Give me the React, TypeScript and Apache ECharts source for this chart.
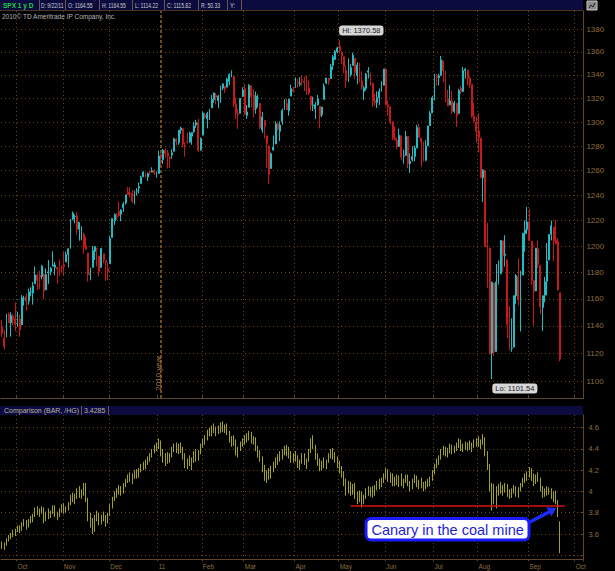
import React, { useEffect, useRef } from "react";
import * as echarts from "echarts";

// SPX daily bars: [day, open, high, low, close]
const spxSep2010 = [
  [22, 1139.5, 1144.4, 1131.6, 1134.3], [23, 1131.1, 1136.8, 1122.8, 1124.8], [24, 1131.7, 1148.9, 1131.7, 1148.7],
  [27, 1148.6, 1149.9, 1142.0, 1142.2], [28, 1142.3, 1150.0, 1132.1, 1147.7], [29, 1146.8, 1148.6, 1140.3, 1144.7],
  [30, 1145.0, 1157.2, 1136.1, 1141.2],
];
const spxOct2010 = [
  [1, 1143.5, 1150.3, 1139.4, 1146.2], [4, 1145.0, 1148.2, 1131.9, 1137.0], [5, 1140.7, 1162.8, 1140.7, 1160.8],
  [6, 1159.8, 1162.3, 1154.9, 1160.0], [7, 1161.6, 1163.9, 1151.4, 1158.1], [8, 1158.4, 1167.7, 1155.6, 1165.2],
  [11, 1165.3, 1168.7, 1162.0, 1165.3], [12, 1164.3, 1172.6, 1155.7, 1169.8], [13, 1171.3, 1184.4, 1171.3, 1178.1],
  [14, 1177.8, 1178.9, 1166.7, 1173.8], [15, 1177.5, 1181.2, 1167.1, 1176.2], [18, 1176.8, 1185.5, 1174.6, 1184.7],
  [19, 1178.6, 1178.6, 1159.7, 1165.9], [20, 1166.7, 1182.9, 1166.7, 1178.2], [21, 1179.6, 1189.4, 1171.2, 1180.3],
  [22, 1180.5, 1183.9, 1178.0, 1183.1], [25, 1184.7, 1196.1, 1184.7, 1185.6], [26, 1183.9, 1187.9, 1177.7, 1185.6],
  [27, 1183.8, 1183.8, 1171.7, 1182.5], [28, 1184.5, 1189.5, 1177.1, 1183.8], [29, 1183.9, 1185.5, 1179.7, 1183.3],
];
const spxNov2010 = [
  [1, 1185.7, 1195.8, 1177.6, 1184.4], [2, 1187.9, 1195.9, 1187.9, 1193.6], [3, 1193.8, 1198.3, 1183.6, 1198.0],
  [4, 1198.3, 1221.3, 1198.3, 1221.1], [5, 1221.2, 1227.1, 1220.3, 1225.9], [8, 1223.2, 1224.6, 1217.8, 1223.3],
  [9, 1223.6, 1226.8, 1208.9, 1213.4], [10, 1213.1, 1218.8, 1204.3, 1218.7], [11, 1213.0, 1215.5, 1204.5, 1213.5],
  [12, 1209.1, 1210.5, 1194.1, 1199.2], [15, 1200.4, 1207.4, 1197.2, 1197.8], [16, 1194.8, 1194.8, 1173.0, 1178.3],
  [17, 1178.3, 1183.6, 1173.9, 1178.6], [18, 1183.8, 1200.3, 1183.8, 1196.7], [19, 1196.1, 1199.9, 1189.4, 1199.7],
  [22, 1198.1, 1198.9, 1184.3, 1197.8], [23, 1192.5, 1192.5, 1176.9, 1180.7], [24, 1183.7, 1198.6, 1183.7, 1198.4],
  [26, 1194.2, 1194.2, 1186.9, 1189.4], [29, 1189.1, 1189.1, 1173.6, 1187.8], [30, 1182.6, 1187.4, 1174.1, 1180.6],
];
const spxDec2010 = [
  [1, 1186.6, 1207.6, 1186.6, 1206.1], [2, 1206.8, 1221.9, 1206.8, 1221.5], [3, 1219.9, 1225.6, 1216.6, 1224.7],
  [6, 1223.9, 1225.8, 1220.7, 1223.1], [7, 1227.3, 1235.1, 1223.3, 1223.8], [8, 1225.0, 1228.9, 1219.5, 1228.3],
  [9, 1230.1, 1234.7, 1226.9, 1233.0], [10, 1233.9, 1240.4, 1232.6, 1240.4], [13, 1242.5, 1246.7, 1240.3, 1240.5],
  [14, 1241.8, 1246.6, 1238.2, 1241.6], [15, 1241.6, 1244.3, 1234.0, 1235.2], [16, 1236.3, 1243.8, 1232.9, 1242.9],
  [17, 1243.6, 1245.8, 1239.9, 1243.9], [20, 1245.8, 1250.2, 1241.5, 1247.1], [21, 1249.4, 1255.8, 1249.4, 1254.6],
  [22, 1254.9, 1259.4, 1254.9, 1258.8], [23, 1257.5, 1258.6, 1254.1, 1256.8], [27, 1254.7, 1258.4, 1251.5, 1257.5],
  [28, 1259.1, 1259.9, 1256.2, 1258.5], [29, 1258.8, 1262.6, 1258.8, 1259.8], [30, 1259.4, 1261.1, 1256.3, 1257.9],
  [31, 1256.8, 1259.3, 1254.2, 1257.6],
];
const spxJan2011 = [
  [3, 1257.6, 1276.2, 1257.6, 1271.9], [4, 1272.9, 1274.1, 1262.7, 1270.2], [5, 1268.8, 1277.6, 1265.4, 1276.6],
  [6, 1276.3, 1278.2, 1270.4, 1273.9], [7, 1274.4, 1276.8, 1261.7, 1271.5], [10, 1270.8, 1271.5, 1262.2, 1269.8],
  [11, 1272.6, 1277.3, 1269.6, 1274.5], [12, 1275.7, 1286.9, 1275.7, 1286.0], [13, 1285.8, 1286.7, 1280.5, 1283.8],
  [14, 1282.9, 1293.2, 1281.1, 1293.2], [18, 1293.2, 1296.1, 1290.2, 1295.0], [19, 1294.5, 1294.6, 1278.9, 1281.9],
  [20, 1280.9, 1283.4, 1271.3, 1280.3], [21, 1283.6, 1291.2, 1282.1, 1283.4], [24, 1283.3, 1291.9, 1282.5, 1290.8],
  [25, 1288.2, 1291.3, 1281.1, 1291.2], [26, 1291.9, 1299.7, 1291.0, 1296.6], [27, 1297.5, 1301.6, 1295.1, 1299.5],
  [28, 1299.6, 1302.7, 1275.1, 1276.3], [31, 1276.5, 1287.2, 1276.5, 1286.1],
];
const spxFeb2011 = [
  [1, 1289.1, 1308.9, 1289.1, 1307.6], [2, 1305.9, 1307.6, 1302.6, 1304.0], [3, 1302.8, 1308.6, 1294.8, 1307.1],
  [4, 1307.0, 1311.0, 1301.7, 1310.9], [7, 1311.9, 1322.9, 1311.9, 1319.1], [8, 1318.8, 1324.9, 1316.0, 1324.6],
  [9, 1322.5, 1324.5, 1314.9, 1320.9], [10, 1318.1, 1322.8, 1311.7, 1321.9], [11, 1318.7, 1330.8, 1316.1, 1329.2],
  [14, 1328.7, 1332.9, 1326.9, 1332.3], [15, 1330.4, 1330.4, 1324.6, 1328.0], [16, 1329.5, 1337.6, 1329.5, 1336.3],
  [17, 1334.4, 1341.5, 1331.0, 1340.4], [18, 1340.4, 1344.1, 1338.1, 1343.0], [22, 1338.9, 1338.9, 1312.3, 1315.4],
  [23, 1315.4, 1320.6, 1302.6, 1307.4], [24, 1307.1, 1310.9, 1294.3, 1306.1], [25, 1307.3, 1320.0, 1307.3, 1319.9],
  [28, 1321.6, 1329.4, 1320.9, 1327.2],
];
const spxMar2011 = [
  [1, 1328.6, 1332.1, 1306.1, 1306.3], [2, 1305.5, 1314.2, 1302.6, 1308.4], [3, 1312.4, 1332.3, 1312.4, 1331.0],
  [4, 1330.7, 1331.1, 1312.6, 1321.2], [7, 1322.7, 1327.7, 1303.9, 1310.1], [8, 1311.1, 1325.7, 1306.9, 1321.8],
  [9, 1319.9, 1323.2, 1312.3, 1320.0], [10, 1315.7, 1315.7, 1294.3, 1295.1], [11, 1293.4, 1308.4, 1291.0, 1304.3],
  [14, 1301.2, 1301.2, 1286.4, 1296.4], [15, 1288.5, 1288.5, 1261.9, 1281.9], [16, 1279.5, 1280.9, 1249.1, 1256.9],
  [17, 1261.6, 1274.7, 1261.6, 1273.7], [18, 1276.7, 1288.9, 1276.2, 1279.2], [21, 1281.7, 1300.6, 1281.7, 1298.4],
  [22, 1298.3, 1299.4, 1292.7, 1293.8], [23, 1292.2, 1300.5, 1284.1, 1297.5], [24, 1300.6, 1311.3, 1297.7, 1309.7],
  [25, 1311.8, 1319.2, 1310.2, 1313.8], [28, 1315.5, 1319.7, 1310.2, 1310.2], [29, 1309.4, 1319.5, 1305.3, 1319.4],
  [30, 1321.9, 1331.7, 1321.9, 1328.3], [31, 1327.4, 1329.8, 1325.0, 1325.8],
];
const spxApr2011 = [
  [1, 1329.5, 1337.9, 1328.9, 1332.4], [4, 1333.6, 1336.7, 1329.1, 1332.9], [5, 1332.0, 1338.2, 1330.0, 1332.6],
  [6, 1335.9, 1339.6, 1330.7, 1335.5], [7, 1334.8, 1338.8, 1326.2, 1333.5], [8, 1336.2, 1339.5, 1322.9, 1328.2],
  [11, 1329.0, 1335.2, 1322.9, 1324.5], [12, 1321.9, 1321.9, 1309.5, 1314.2], [13, 1314.0, 1321.4, 1309.2, 1314.4],
  [14, 1311.1, 1316.8, 1302.4, 1314.5], [15, 1314.5, 1322.9, 1313.7, 1319.7], [18, 1313.4, 1313.4, 1294.7, 1305.1],
  [19, 1306.0, 1312.7, 1304.0, 1312.6], [20, 1319.1, 1332.7, 1319.1, 1330.4], [21, 1333.2, 1337.5, 1332.0, 1337.4],
  [25, 1337.1, 1337.6, 1331.7, 1335.3], [26, 1336.8, 1349.6, 1336.8, 1347.2], [27, 1348.4, 1357.5, 1344.3, 1355.7],
  [28, 1353.5, 1361.7, 1353.0, 1360.5], [29, 1360.1, 1364.6, 1358.7, 1363.6],
];
const spxMay2011 = [
  [2, 1365.2, 1370.58, 1358.6, 1361.2], [3, 1359.8, 1360.8, 1349.5, 1356.6], [4, 1355.9, 1355.9, 1341.5, 1347.3],
  [5, 1344.2, 1348.0, 1329.2, 1335.1], [6, 1340.2, 1354.4, 1333.9, 1340.2], [9, 1340.2, 1349.4, 1338.6, 1346.3],
  [10, 1348.3, 1359.4, 1348.3, 1357.2], [11, 1354.5, 1354.5, 1336.4, 1342.1], [12, 1339.4, 1351.1, 1332.0, 1348.7],
  [13, 1348.7, 1350.5, 1333.4, 1337.8], [16, 1334.8, 1343.3, 1327.3, 1329.5], [17, 1326.1, 1330.4, 1318.5, 1329.0],
  [18, 1328.5, 1341.8, 1326.6, 1340.7], [19, 1342.4, 1346.8, 1336.9, 1343.6], [20, 1342.0, 1342.0, 1330.7, 1333.3],
  [23, 1333.1, 1333.1, 1312.6, 1317.4], [24, 1317.7, 1323.7, 1313.9, 1316.3], [25, 1316.4, 1325.9, 1311.8, 1320.5],
  [26, 1320.6, 1328.5, 1314.4, 1325.7], [27, 1325.7, 1334.6, 1325.7, 1331.1], [31, 1331.1, 1345.2, 1331.1, 1345.2],
];
const spxJun2011 = [
  [1, 1345.2, 1345.2, 1313.7, 1314.6], [2, 1314.6, 1318.0, 1305.6, 1312.9], [3, 1312.9, 1312.9, 1297.9, 1300.2],
  [6, 1300.3, 1300.3, 1284.9, 1286.2], [7, 1286.3, 1296.2, 1284.7, 1284.9], [8, 1284.6, 1287.0, 1277.4, 1279.6],
  [9, 1279.6, 1294.5, 1279.6, 1289.0], [10, 1288.6, 1288.6, 1268.3, 1271.0], [13, 1271.6, 1277.0, 1265.6, 1271.8],
  [14, 1272.2, 1292.5, 1272.2, 1287.9], [15, 1287.9, 1287.9, 1261.9, 1265.4], [16, 1265.5, 1274.1, 1258.1, 1267.6],
  [17, 1268.6, 1279.8, 1267.4, 1271.5], [20, 1271.5, 1280.4, 1267.6, 1278.4], [21, 1278.4, 1297.6, 1278.4, 1295.5],
  [22, 1295.5, 1298.6, 1286.8, 1287.1], [23, 1286.6, 1286.6, 1262.9, 1283.5], [24, 1283.0, 1283.9, 1267.2, 1268.5],
  [27, 1268.4, 1284.9, 1267.5, 1280.1], [28, 1280.2, 1296.8, 1280.2, 1296.7], [29, 1296.9, 1309.2, 1296.9, 1307.4],
  [30, 1307.6, 1322.0, 1307.6, 1320.6],
];
const spxJul2011 = [
  [1, 1320.6, 1341.0, 1318.2, 1339.7], [5, 1339.6, 1340.9, 1330.9, 1337.9], [6, 1337.6, 1340.9, 1330.9, 1339.2],
  [7, 1339.6, 1356.5, 1339.6, 1353.2], [8, 1352.4, 1352.4, 1333.7, 1343.8], [11, 1343.3, 1343.3, 1316.4, 1319.5],
  [12, 1319.6, 1327.2, 1313.3, 1313.6], [13, 1314.5, 1331.5, 1314.5, 1317.7], [14, 1317.7, 1326.7, 1306.5, 1308.9],
  [15, 1308.9, 1317.7, 1307.4, 1316.1], [18, 1315.9, 1315.9, 1295.9, 1305.4], [19, 1307.1, 1328.1, 1307.1, 1326.7],
  [20, 1328.7, 1330.4, 1323.7, 1325.8], [21, 1325.7, 1347.0, 1325.7, 1343.8], [22, 1343.8, 1346.1, 1336.9, 1345.0],
  [25, 1344.3, 1344.3, 1331.1, 1337.4], [26, 1337.4, 1338.5, 1329.1, 1331.9], [27, 1331.9, 1331.9, 1303.5, 1304.9],
  [28, 1304.8, 1316.3, 1299.2, 1300.7], [29, 1300.1, 1304.2, 1282.9, 1292.3],
];
const spxAug2011 = [
  [1, 1292.6, 1307.4, 1274.7, 1286.9], [2, 1286.6, 1286.6, 1254.0, 1254.1], [3, 1254.3, 1261.2, 1234.6, 1260.3],
  [4, 1260.2, 1260.2, 1199.5, 1200.1], [5, 1200.3, 1218.1, 1168.1, 1199.4], [8, 1198.5, 1198.5, 1119.3, 1119.5],
  [9, 1120.2, 1172.9, 1101.54, 1172.5], [10, 1171.8, 1171.8, 1118.0, 1120.8], [11, 1121.3, 1186.3, 1121.3, 1172.6],
  [12, 1172.9, 1189.0, 1170.7, 1178.8], [15, 1178.9, 1204.5, 1178.9, 1204.5], [16, 1204.2, 1204.2, 1180.5, 1192.8],
  [17, 1192.9, 1208.5, 1184.4, 1193.9], [18, 1189.6, 1189.6, 1131.0, 1140.7], [19, 1140.5, 1154.5, 1122.1, 1123.5],
  [22, 1123.6, 1145.5, 1121.1, 1123.8], [23, 1124.4, 1162.4, 1124.4, 1162.4], [24, 1162.2, 1178.6, 1156.3, 1177.6],
  [25, 1176.7, 1190.7, 1155.1, 1159.3], [26, 1158.9, 1181.2, 1135.9, 1176.8], [29, 1177.9, 1210.3, 1177.9, 1210.1],
  [30, 1209.8, 1220.1, 1195.8, 1212.9], [31, 1213.0, 1230.7, 1209.4, 1218.9],
];
const spxSep2011 = [
  [1, 1219.1, 1229.3, 1203.9, 1204.4], [2, 1203.9, 1203.9, 1170.6, 1174.0], [6, 1174.0, 1174.0, 1140.1, 1165.2],
  [7, 1165.9, 1198.6, 1165.9, 1198.6], [8, 1198.0, 1204.4, 1183.3, 1185.9], [9, 1185.4, 1185.4, 1148.4, 1154.2],
  [12, 1153.5, 1162.5, 1136.1, 1162.3], [13, 1162.6, 1176.4, 1157.4, 1172.9], [14, 1173.3, 1202.4, 1162.7, 1188.7],
  [15, 1189.4, 1209.1, 1189.4, 1209.1], [16, 1209.2, 1220.1, 1204.5, 1216.0], [19, 1215.0, 1215.0, 1188.4, 1204.1],
  [20, 1204.5, 1220.4, 1201.3, 1202.1], [21, 1203.6, 1206.3, 1166.2, 1166.8], [22, 1164.55, 1164.55, 1114.22, 1115.82],
];

// Copper (/HG) daily bars: [open, high, low, close]
const hgSep2010 = [
  [3.50, 3.53, 3.46, 3.48], [3.48, 3.52, 3.45, 3.50], [3.50, 3.56, 3.49, 3.55], [3.55, 3.59, 3.53, 3.57],
  [3.57, 3.61, 3.55, 3.58], [3.58, 3.64, 3.57, 3.62], [3.62, 3.65, 3.58, 3.63],
];
const hgOct2010 = [
  [3.63, 3.68, 3.62, 3.66], [3.66, 3.68, 3.61, 3.64], [3.64, 3.71, 3.63, 3.70], [3.70, 3.74, 3.67, 3.69],
  [3.69, 3.73, 3.64, 3.67], [3.67, 3.74, 3.66, 3.73], [3.73, 3.77, 3.70, 3.74], [3.74, 3.79, 3.71, 3.77],
  [3.77, 3.85, 3.76, 3.83], [3.83, 3.86, 3.78, 3.80], [3.80, 3.84, 3.76, 3.81], [3.81, 3.86, 3.79, 3.84],
  [3.84, 3.85, 3.70, 3.73], [3.73, 3.81, 3.72, 3.79], [3.79, 3.84, 3.74, 3.76], [3.76, 3.82, 3.75, 3.80],
  [3.80, 3.87, 3.79, 3.85], [3.85, 3.87, 3.76, 3.78], [3.78, 3.81, 3.73, 3.77], [3.77, 3.84, 3.76, 3.82],
  [3.82, 3.88, 3.80, 3.86],
];
const hgNov2010 = [
  [3.86, 3.89, 3.79, 3.81], [3.81, 3.86, 3.80, 3.84], [3.84, 3.90, 3.82, 3.88], [3.88, 3.97, 3.87, 3.95],
  [3.95, 3.99, 3.90, 3.92], [3.92, 3.98, 3.88, 3.96], [3.96, 4.03, 3.93, 4.01], [4.01, 4.05, 3.94, 3.97],
  [3.97, 4.02, 3.93, 3.99], [3.99, 4.08, 3.96, 4.04], [4.04, 4.08, 3.90, 3.92], [3.92, 3.94, 3.72, 3.76],
  [3.76, 3.80, 3.66, 3.70], [3.70, 3.75, 3.60, 3.64], [3.64, 3.78, 3.62, 3.76], [3.76, 3.82, 3.72, 3.78],
  [3.78, 3.80, 3.68, 3.70], [3.70, 3.78, 3.69, 3.76], [3.76, 3.81, 3.72, 3.74], [3.74, 3.78, 3.67, 3.72],
  [3.72, 3.80, 3.70, 3.78],
];
const hgDec2010 = [
  [3.78, 3.88, 3.77, 3.86], [3.86, 3.95, 3.84, 3.93], [3.93, 4.00, 3.91, 3.98], [3.98, 4.03, 3.94, 4.00],
  [4.00, 4.06, 3.97, 4.03], [4.03, 4.05, 3.96, 3.99], [3.99, 4.08, 3.98, 4.06], [4.06, 4.12, 4.04, 4.10],
  [4.10, 4.16, 4.08, 4.14], [4.14, 4.18, 4.09, 4.12], [4.12, 4.17, 4.07, 4.15], [4.15, 4.20, 4.12, 4.18],
  [4.18, 4.21, 4.12, 4.14], [4.14, 4.22, 4.13, 4.20], [4.20, 4.26, 4.18, 4.24], [4.24, 4.28, 4.20, 4.22],
  [4.22, 4.30, 4.21, 4.28], [4.28, 4.33, 4.25, 4.31], [4.31, 4.36, 4.28, 4.34], [4.34, 4.40, 4.32, 4.38],
  [4.38, 4.44, 4.36, 4.42], [4.42, 4.46, 4.38, 4.44],
];
const hgJan2011 = [
  [4.44, 4.50, 4.40, 4.46], [4.46, 4.48, 4.33, 4.35], [4.35, 4.40, 4.27, 4.30], [4.30, 4.36, 4.24, 4.33],
  [4.33, 4.37, 4.26, 4.29], [4.29, 4.36, 4.27, 4.34], [4.34, 4.42, 4.32, 4.40], [4.40, 4.45, 4.37, 4.43],
  [4.43, 4.46, 4.36, 4.38], [4.38, 4.45, 4.35, 4.42], [4.42, 4.46, 4.36, 4.40], [4.40, 4.42, 4.30, 4.33],
  [4.33, 4.36, 4.22, 4.25], [4.25, 4.31, 4.21, 4.28], [4.28, 4.34, 4.24, 4.26], [4.26, 4.32, 4.20, 4.30],
  [4.30, 4.38, 4.27, 4.35], [4.35, 4.40, 4.28, 4.31], [4.31, 4.39, 4.29, 4.37], [4.37, 4.45, 4.35, 4.43],
];
const hgFeb2011 = [
  [4.43, 4.50, 4.41, 4.48], [4.48, 4.53, 4.44, 4.50], [4.50, 4.58, 4.48, 4.56], [4.56, 4.60, 4.52, 4.54],
  [4.54, 4.62, 4.52, 4.60], [4.60, 4.64, 4.55, 4.57], [4.57, 4.61, 4.52, 4.59], [4.59, 4.62, 4.54, 4.56],
  [4.56, 4.65, 4.55, 4.62], [4.62, 4.66, 4.56, 4.58], [4.58, 4.63, 4.55, 4.61], [4.61, 4.64, 4.53, 4.55],
  [4.55, 4.57, 4.46, 4.48], [4.48, 4.52, 4.42, 4.50], [4.50, 4.53, 4.43, 4.46], [4.46, 4.49, 4.34, 4.37],
  [4.37, 4.42, 4.32, 4.40], [4.40, 4.47, 4.38, 4.45], [4.45, 4.50, 4.42, 4.48],
];
const hgMar2011 = [
  [4.48, 4.53, 4.44, 4.50], [4.50, 4.55, 4.46, 4.53], [4.53, 4.57, 4.48, 4.51], [4.51, 4.56, 4.45, 4.47],
  [4.47, 4.52, 4.44, 4.49], [4.49, 4.51, 4.38, 4.40], [4.40, 4.43, 4.32, 4.35], [4.35, 4.39, 4.28, 4.30],
  [4.30, 4.33, 4.18, 4.21], [4.21, 4.25, 4.10, 4.14], [4.14, 4.20, 4.08, 4.17], [4.17, 4.22, 4.11, 4.13],
  [4.13, 4.24, 4.12, 4.22], [4.22, 4.28, 4.18, 4.26], [4.26, 4.32, 4.22, 4.29], [4.29, 4.35, 4.25, 4.33],
  [4.33, 4.38, 4.28, 4.31], [4.31, 4.40, 4.30, 4.37], [4.37, 4.43, 4.34, 4.40], [4.40, 4.44, 4.33, 4.36],
  [4.36, 4.42, 4.31, 4.34], [4.34, 4.38, 4.27, 4.30], [4.30, 4.36, 4.27, 4.33],
];
const hgApr2011 = [
  [4.33, 4.38, 4.28, 4.31], [4.31, 4.34, 4.22, 4.25], [4.25, 4.30, 4.20, 4.28], [4.28, 4.36, 4.26, 4.33],
  [4.33, 4.36, 4.25, 4.27], [4.27, 4.31, 4.21, 4.29], [4.29, 4.40, 4.28, 4.38], [4.38, 4.50, 4.36, 4.47],
  [4.47, 4.53, 4.40, 4.42], [4.42, 4.44, 4.30, 4.33], [4.33, 4.36, 4.24, 4.27], [4.27, 4.31, 4.19, 4.22],
  [4.22, 4.29, 4.20, 4.26], [4.26, 4.32, 4.22, 4.24], [4.24, 4.30, 4.21, 4.28], [4.28, 4.36, 4.27, 4.34],
  [4.34, 4.40, 4.31, 4.38], [4.38, 4.41, 4.30, 4.32], [4.32, 4.37, 4.27, 4.30], [4.30, 4.33, 4.22, 4.25],
];
const hgMay2011 = [
  [4.25, 4.29, 4.17, 4.20], [4.20, 4.24, 4.13, 4.16], [4.16, 4.19, 4.05, 4.08], [4.08, 4.12, 3.96, 4.00],
  [4.00, 4.10, 3.98, 4.06], [4.06, 4.09, 3.96, 3.99], [3.99, 4.07, 3.97, 4.05], [4.05, 4.08, 3.93, 3.96],
  [3.96, 4.00, 3.88, 3.92], [3.92, 4.01, 3.90, 3.98], [3.98, 4.00, 3.85, 3.90], [3.90, 3.97, 3.88, 3.95],
  [3.95, 4.03, 3.93, 4.01], [4.01, 4.05, 3.96, 3.99], [3.99, 4.04, 3.95, 4.02], [4.02, 4.05, 3.94, 3.97],
  [3.97, 4.06, 3.96, 4.04], [4.04, 4.10, 4.01, 4.08], [4.08, 4.12, 4.02, 4.05], [4.05, 4.13, 4.04, 4.11],
  [4.11, 4.17, 4.08, 4.14],
];
const hgJun2011 = [
  [4.14, 4.22, 4.12, 4.19], [4.19, 4.21, 4.09, 4.12], [4.12, 4.18, 4.08, 4.15], [4.15, 4.17, 4.05, 4.08],
  [4.08, 4.14, 4.05, 4.12], [4.12, 4.16, 4.06, 4.10], [4.10, 4.15, 4.04, 4.13], [4.13, 4.17, 4.05, 4.07],
  [4.07, 4.12, 4.03, 4.09], [4.09, 4.16, 4.08, 4.14], [4.14, 4.16, 4.05, 4.07], [4.07, 4.10, 4.00, 4.04],
  [4.04, 4.12, 4.02, 4.10], [4.10, 4.16, 4.08, 4.13], [4.13, 4.15, 4.04, 4.06], [4.06, 4.11, 4.02, 4.08],
  [4.08, 4.13, 4.03, 4.05], [4.05, 4.09, 4.00, 4.03], [4.03, 4.10, 4.02, 4.08], [4.08, 4.12, 4.04, 4.06],
  [4.06, 4.14, 4.05, 4.12], [4.12, 4.20, 4.10, 4.18],
];
const hgJul2011 = [
  [4.18, 4.26, 4.16, 4.24], [4.24, 4.31, 4.22, 4.29], [4.29, 4.34, 4.25, 4.32], [4.32, 4.40, 4.30, 4.38],
  [4.38, 4.43, 4.34, 4.40], [4.40, 4.42, 4.33, 4.36], [4.36, 4.41, 4.32, 4.39], [4.39, 4.45, 4.36, 4.42],
  [4.42, 4.44, 4.35, 4.38], [4.38, 4.43, 4.36, 4.41], [4.41, 4.46, 4.38, 4.44], [4.44, 4.50, 4.41, 4.47],
  [4.47, 4.49, 4.38, 4.41], [4.41, 4.45, 4.37, 4.43], [4.43, 4.47, 4.39, 4.41], [4.41, 4.46, 4.38, 4.44],
  [4.44, 4.48, 4.39, 4.42], [4.42, 4.46, 4.37, 4.45], [4.45, 4.49, 4.41, 4.43], [4.43, 4.50, 4.42, 4.48],
];
const hgAug2011 = [
  [4.48, 4.52, 4.42, 4.45], [4.45, 4.49, 4.40, 4.47], [4.47, 4.54, 4.44, 4.49], [4.49, 4.51, 4.33, 4.36],
  [4.36, 4.38, 4.20, 4.24], [4.24, 4.26, 4.00, 4.04], [4.04, 4.08, 3.82, 3.98], [3.98, 4.07, 3.88, 3.92],
  [3.92, 4.05, 3.84, 4.02], [4.02, 4.07, 3.96, 4.04], [4.04, 4.09, 3.98, 4.01], [4.01, 4.06, 3.96, 4.03],
  [4.03, 4.08, 3.99, 4.05], [4.05, 4.07, 3.95, 3.98], [3.98, 4.02, 3.93, 3.96], [3.96, 4.03, 3.94, 4.01],
  [4.01, 4.06, 3.98, 4.04], [4.04, 4.05, 3.95, 3.99], [3.99, 4.04, 3.94, 4.02], [4.02, 4.08, 4.00, 4.06],
  [4.06, 4.13, 4.04, 4.11], [4.11, 4.17, 4.08, 4.14], [4.14, 4.19, 4.10, 4.17],
];
const hgSep2011 = [
  [4.17, 4.23, 4.13, 4.20], [4.20, 4.22, 4.10, 4.13], [4.13, 4.17, 4.05, 4.09], [4.09, 4.16, 4.07, 4.14],
  [4.14, 4.18, 4.09, 4.11], [4.11, 4.13, 4.00, 4.02], [4.02, 4.05, 3.94, 3.97], [3.97, 4.03, 3.95, 4.01],
  [4.01, 4.05, 3.96, 3.99], [3.99, 4.04, 3.97, 4.02], [4.02, 4.03, 3.93, 3.95], [3.95, 4.00, 3.90, 3.97],
  [3.97, 4.01, 3.88, 3.91], [3.91, 3.92, 3.76, 3.80], [3.72, 3.72, 3.42, 3.4285],
];

const futureDates = ["9/23/11", "9/26/11", "9/27/11", "9/28/11", "9/29/11", "9/30/11", "10/3/11", "10/4/11", "10/5/11", "10/6/11"];
const spxTicks = [1100, 1120, 1140, 1160, 1180, 1200, 1220, 1240, 1260, 1280, 1300, 1320, 1340, 1360, 1380];
const monthNames = ["", "Jan", "Feb", "Mar", "Apr", "May", "Jun", "Jul", "Aug", "Sep", "Oct", "Nov", "Dec"];
const supportLevel = 3.863;
const supportFrom = "5/9/11";
const supportTo = "9/26/11";
const yearMarkDate = "1/4/11";
const annotationText = "Canary in the coal mine";

const months = [
  { y: 2010, m: 9, spx: spxSep2010, hg: hgSep2010 },
  { y: 2010, m: 10, spx: spxOct2010, hg: hgOct2010 },
  { y: 2010, m: 11, spx: spxNov2010, hg: hgNov2010 },
  { y: 2010, m: 12, spx: spxDec2010, hg: hgDec2010 },
  { y: 2011, m: 1, spx: spxJan2011, hg: hgJan2011 },
  { y: 2011, m: 2, spx: spxFeb2011, hg: hgFeb2011 },
  { y: 2011, m: 3, spx: spxMar2011, hg: hgMar2011 },
  { y: 2011, m: 4, spx: spxApr2011, hg: hgApr2011 },
  { y: 2011, m: 5, spx: spxMay2011, hg: hgMay2011 },
  { y: 2011, m: 6, spx: spxJun2011, hg: hgJun2011 },
  { y: 2011, m: 7, spx: spxJul2011, hg: hgJul2011 },
  { y: 2011, m: 8, spx: spxAug2011, hg: hgAug2011 },
  { y: 2011, m: 9, spx: spxSep2011, hg: hgSep2011 },
];

const categories: string[] = [];
const spxData: number[][] = [];
const hgData: number[][] = [];
const monthStarts = new Set<number>();
let janIdx = -1;
months.forEach(({ y, m, spx, hg }) => {
  spx.forEach((r, i) => {
    const idx = categories.length;
    if (i === 0 && idx > 0) monthStarts.add(idx);
    if (i === 0 && m === 1) janIdx = idx;
    categories.push(`${m}/${r[0]}/${y % 100}`);
    spxData.push([r[1], r[4], r[3], r[2]]);
    const h = hg[i];
    hgData.push([h[0], h[3], h[2], h[1]]);
  });
});
futureDates.forEach((d) => {
  const idx = categories.length;
  const m = +d.split("/")[0];
  const prevM = +categories[idx - 1].split("/")[0];
  if (m !== prevM) monthStarts.add(idx);
  categories.push(d);
});

let hiIdx = 0, loIdx = 0;
spxData.forEach((d, i) => {
  if (d[3] > spxData[hiIdx][3]) hiIdx = i;
  if (d[2] < spxData[loIdx][2]) loIdx = i;
});
const hiVal = spxData[hiIdx][3];
const loVal = spxData[loIdx][2];
const lastSpx = spxData[spxData.length - 1];
const lastHg = hgData[hgData.length - 1];
const lastDate = categories[spxData.length - 1];

const FONT = '"Liberation Sans", Arial, Helvetica, sans-serif';
const AXIS = "#5e4626";
const GRID = "#6a4616";
const LABEL = "#8e6d3d";
const UP = "#1fbcc4";
const DOWN = "#c81818";
const OLIVE = "#a2a21e";
const NAVY = "#0b0b40";
const SEP = "#6b5a48";

function buildOption() {
  const hdrTexts = [
    { t: "SPX 1 y D", x: 3, c: "#25d040", bold: true, sx: 1 },
    { t: `D: ${lastDate}`, x: 41, c: "#cfcfcf", sx: 0.76 },
    { t: `O: ${lastSpx[0].toFixed(2)}`, x: 68, c: "#cfcfcf", sx: 0.78 },
    { t: `H: ${lastSpx[3].toFixed(2)}`, x: 102, c: "#cfcfcf", sx: 0.76 },
    { t: `L: ${lastSpx[2].toFixed(2)}`, x: 135, c: "#cfcfcf", sx: 0.78 },
    { t: `C: ${lastSpx[1].toFixed(2)}`, x: 167, c: "#cfcfcf", sx: 0.78 },
    { t: `R: ${(lastSpx[3] - lastSpx[2]).toFixed(2)}`, x: 201, c: "#cfcfcf", sx: 0.78 },
    { t: "Y:", x: 230, c: "#cfcfcf", sx: 0.9 },
  ];
  const hdrSeps = [39, 65, 99, 132, 164, 198, 227, 241];

  const graphic: any[] = [
    { type: "rect", z: 100, shape: { x: 0, y: 0, width: 583, height: 10 }, style: { fill: NAVY } },
    ...hdrSeps.map((x) => ({ type: "line", z: 101, shape: { x1: x + 0.5, y1: 0, x2: x + 0.5, y2: 10 }, style: { stroke: SEP, lineWidth: 1 } })),
    ...hdrTexts.map((h) => ({
      type: "text", z: 102, x: h.x, y: 5.5, scaleX: h.sx,
      style: { text: h.t, fill: h.c, fontSize: 6.5, fontFamily: FONT, fontWeight: h.bold ? "bold" : "normal", verticalAlign: "middle", align: "left" },
    })),
    { type: "line", z: 100, shape: { x1: 0, y1: 10.5, x2: 583, y2: 10.5 }, style: { stroke: "#4a3520", lineWidth: 1 } },
    { type: "rect", z: 100, shape: { x: 587, y: 1, width: 10, height: 9 }, style: { fill: "#8c8c8c", stroke: "#c8c8c8", lineWidth: 1 } },
    { type: "polyline", z: 101, shape: { points: [[589, 8], [591, 5], [593, 7], [595, 3]] }, style: { stroke: "#202020", lineWidth: 1, fill: null } },
    {
      type: "text", z: 100, x: 2, y: 16,
      style: { text: "2010\u00a9 TD Ameritrade IP Company, Inc.", fill: "#b4b4b4", fontSize: 6.5, fontFamily: FONT, verticalAlign: "middle" },
    },
    {
      type: "text", z: 100, x: 158, y: 373, rotation: Math.PI / 2,
      style: { text: "2010 year", fill: "#a67f40", fontSize: 8, fontFamily: FONT, align: "center", verticalAlign: "middle" },
    },
    { type: "rect", z: 100, shape: { x: 0, y: 406, width: 583, height: 9 }, style: { fill: NAVY } },
    { type: "line", z: 101, shape: { x1: 81.5, y1: 406, x2: 81.5, y2: 415 }, style: { stroke: SEP, lineWidth: 1 } },
    { type: "line", z: 101, shape: { x1: 108.5, y1: 406, x2: 108.5, y2: 415 }, style: { stroke: SEP, lineWidth: 1 } },
    {
      type: "text", z: 102, x: 4, y: 410.5,
      style: { text: "Comparison (BAR, /HG)", fill: "#bdb49a", fontSize: 7, fontFamily: FONT, verticalAlign: "middle" },
    },
    {
      type: "text", z: 102, x: 84, y: 410.5,
      style: { text: String(lastHg[1]), fill: "#bdb49a", fontSize: 7, fontFamily: FONT, verticalAlign: "middle" },
    },
    // annotation
    { type: "polyline", z: 110, shape: { points: [[528, 523], [549, 512]] }, style: { stroke: "#1a2cff", lineWidth: 3.5, fill: null } },
    { type: "polygon", z: 110, shape: { points: [[556, 508], [551.5, 516.5], [546.3, 507.3]] }, style: { fill: "#1a2cff" } },
    {
      type: "rect", z: 111, shape: { x: 366, y: 518.5, width: 163, height: 21.5, r: 5 },
      style: { fill: "#ffffff", stroke: "#1a1aff", lineWidth: 3 },
    },
    {
      type: "text", z: 112, x: 447.6, y: 529.5,
      style: { text: annotationText, fill: "#1e1ed2", fontSize: 14.5, fontFamily: FONT, align: "center", verticalAlign: "middle" },
    },
  ];

  const monthInterval = (i: number) => monthStarts.has(i);

  return {
    animation: false,
    backgroundColor: "#000000",
    textStyle: { fontFamily: FONT },
    grid: [
      { left: 1, top: 11, width: 582.4, height: 387 },
      { left: 1, top: 415, width: 582.4, height: 144.3 },
    ],
    xAxis: [
      {
        type: "category", gridIndex: 0, data: categories, boundaryGap: true,
        axisLine: { show: true, lineStyle: { color: AXIS } },
        axisTick: { show: true, inside: true, length: 3, interval: monthInterval, lineStyle: { color: AXIS } },
        axisLabel: { show: false },
        splitLine: { show: true, interval: (i: number) => monthStarts.has(i) && i !== janIdx, lineStyle: { color: GRID, type: [1, 3], width: 1 } },
      },
      {
        type: "category", gridIndex: 1, data: categories, boundaryGap: true,
        axisLine: { show: true, lineStyle: { color: AXIS } },
        axisTick: { show: true, length: 2, interval: monthInterval, lineStyle: { color: AXIS } },
        axisLabel: {
          show: true, interval: monthInterval, align: "left", color: LABEL, fontSize: 6.5, margin: 4, hideOverlap: false,
          formatter: (v: string) => {
            const p = v.split("/");
            return +p[0] === 1 ? p[2] : monthNames[+p[0]];
          },
        },
        splitLine: { show: true, interval: monthInterval, lineStyle: { color: GRID, type: [1, 3], width: 1 } },
      },
    ],
    yAxis: [
      {
        type: "log", gridIndex: 0, position: "right", logBase: 10, min: 1088.2, max: 1396.4,
        axisLine: { show: true, lineStyle: { color: AXIS } },
        axisTick: { show: false }, axisLabel: { show: false }, splitLine: { show: false },
      },
      {
        type: "value", gridIndex: 1, position: "right", min: 3.362, max: 4.7195, minInterval: 0.2, maxInterval: 0.2, splitNumber: 7,
        axisLine: { show: true, lineStyle: { color: AXIS } },
        axisTick: { show: true, inside: true, length: 3, lineStyle: { color: AXIS } },
        axisLabel: {
          show: true, color: LABEL, fontSize: 7.5, margin: 5, showMinLabel: false, showMaxLabel: false,
          formatter: (v: number) => {
            const r = Math.round(v * 5) / 5;
            if (Math.abs(v - r) > 1e-6 || r < 3.5) return "";
            return String(+r.toFixed(1));
          },
        },
        splitLine: { show: true, showMinLine: false, showMaxLine: false, lineStyle: { color: GRID, type: [1, 3], width: 1 } },
      },
    ],
    graphic,
    series: [
      {
        type: "candlestick", name: "SPX", xAxisIndex: 0, yAxisIndex: 0, data: spxData, barWidth: 1.4, silent: true, z: 3,
        itemStyle: { color: UP, color0: DOWN, borderColor: UP, borderColor0: DOWN, borderWidth: 1 },
        markLine: {
          silent: true, symbol: ["none", "none"], z: 1, animation: false,
          label: { show: true, position: "end", distance: 3, color: LABEL, fontSize: 8, fontFamily: FONT },
          lineStyle: { color: GRID, type: [1, 3], width: 1 },
          emphasis: { disabled: true },
          data: [
            ...spxTicks.map((v) => ({ yAxis: v, label: { formatter: String(v) } })),
            { xAxis: yearMarkDate, lineStyle: { color: "#6e4c1c", type: [3, 2], width: 2 }, label: { show: false } },
            {
              yAxis: lastSpx[1], lineStyle: { opacity: 0 },
              label: { formatter: lastSpx[1].toFixed(2), backgroundColor: "#ff1414", color: "#ffe6e6", padding: [0, 2, 0, 2], distance: 2, fontSize: 7.5, lineHeight: 8 },
            },
          ],
        },
        markPoint: {
          silent: true, symbol: "rect", symbolSize: 1, itemStyle: { color: "rgba(0,0,0,0)" },
          label: { show: true, color: "#1a1a1a", fontSize: 7.5, fontFamily: FONT, backgroundColor: "#d6d6d6", borderRadius: 3, padding: [1, 3, 1, 3] },
          data: [
            { coord: [categories[hiIdx], hiVal], label: { position: [0, -14], formatter: `Hi: ${hiVal.toFixed(2)}` } },
            { coord: [categories[loIdx], loVal], label: { position: [1, 5], formatter: `Lo: ${loVal.toFixed(2)}` } },
          ],
        },
      },
      {
        type: "candlestick", name: "/HG", xAxisIndex: 1, yAxisIndex: 1, data: hgData, barWidth: 1, silent: true,
        itemStyle: { color: OLIVE, color0: OLIVE, borderColor: OLIVE, borderColor0: OLIVE, borderWidth: 1 },
        markLine: {
          silent: true, symbol: ["none", "none"], animation: false,
          label: { show: false },
          emphasis: { disabled: true },
          data: [
            [
              { coord: [supportFrom, supportLevel], lineStyle: { color: "#d41414", width: 1.5, type: "solid" } },
              { coord: [supportTo, supportLevel] },
            ],
            {
              yAxis: lastHg[1], lineStyle: { opacity: 0 },
              label: { show: true, position: "end", formatter: String(lastHg[1]), backgroundColor: "#c8c818", color: "#2a2a00", padding: [1, 2, 0, 2], distance: 2, fontSize: 7.5, fontFamily: FONT },
            },
          ],
        },
      },
    ],
  };
}

export default function App() {
  const ref = useRef<HTMLDivElement>(null);
  useEffect(() => {
    document.body.style.margin = "0";
    document.body.style.background = "#000";
    const chart = echarts.init(ref.current as HTMLDivElement, null, { renderer: "svg", width: 615, height: 571 });
    chart.setOption(buildOption() as any);
    return () => chart.dispose();
  }, []);
  return <div ref={ref} style={{ width: 615, height: 571, background: "#000" }} />;
}
